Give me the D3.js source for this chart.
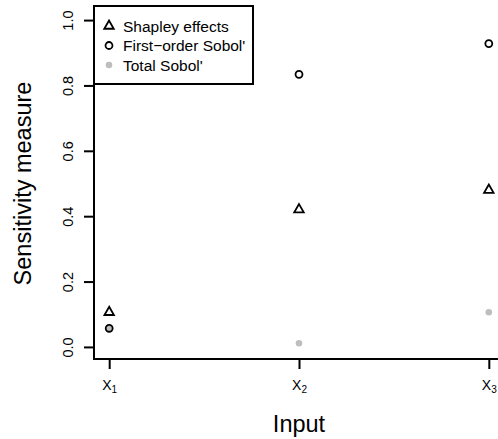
<!DOCTYPE html>
<html>
<head>
<meta charset="utf-8">
<script src="https://cdn.jsdelivr.net/npm/d3@7"></script>
<style>
  body { margin: 0; background: #ffffff; }
  text { font-family: "Liberation Sans", Arial, Helvetica, sans-serif; fill: #000000; }
</style>
</head>
<body>
<div id="chart"></div>
<script>
const inputs = [1, 2, 3];
const inputLabels = ["X1", "X2", "X3"];
const shapley = [0.106, 0.42, 0.48];
const firstOrder = [0.057, 0.834, 0.928];
const totalSobol = [0.057, 0.011, 0.106];
const yTicks = [0, 0.2, 0.4, 0.6, 0.8, 1.0];
const legendLabels = ["Shapley effects", "First\u2212order Sobol'", "Total Sobol'"];

const width = 498;
const height = 439;

const svg = d3
  .select("#chart")
  .append("svg")
  .attr("width", width)
  .attr("height", height);

// R style 4% padding on both axes
const x = d3.scaleLinear().domain([0.92, 3.08]).range([94, 504]);
const y = d3.scaleLinear().domain([-0.04, 1.04]).range([360, 7]);

// y axis
const yAxis = svg
  .append("g")
  .attr("transform", "translate(94,0)")
  .call(d3.axisLeft(y).tickValues(yTicks).tickSize(10).tickSizeOuter(0).tickFormat(d3.format(".1f")));
yAxis.select(".domain").remove();
yAxis.selectAll(".tick line").attr("stroke", "#000").attr("stroke-width", 2);
yAxis
  .selectAll(".tick text")
  .attr("transform", "rotate(-90)")
  .attr("x", 0)
  .attr("y", -21)
  .attr("dy", 0)
  .attr("text-anchor", "middle")
  .style("font-size", "14.5px");

// x axis
const xAxis = svg
  .append("g")
  .attr("transform", "translate(0,359)")
  .call(d3.axisBottom(x).tickValues(inputs).tickSize(10).tickSizeOuter(0).tickFormat(""));
xAxis.select(".domain").remove();
xAxis.selectAll(".tick line").attr("stroke", "#000").attr("stroke-width", 2);
xAxis
  .selectAll(".tick")
  .append("text")
  .attr("y", 31)
  .attr("text-anchor", "middle")
  .style("font-size", "14px")
  .each(function (d, i) {
    const t = d3.select(this);
    t.append("tspan").text(inputLabels[i].charAt(0));
    t.append("tspan").attr("dy", 3).style("font-size", "10px").text(inputLabels[i].slice(1));
  });

// L shaped box
svg
  .append("path")
  .attr("d", `M${x(0.92)},${y(1.04)}V359H${width}`)
  .attr("fill", "none")
  .attr("stroke", "#000")
  .attr("stroke-width", 2);

const tri = d3.symbol(d3.symbolTriangle, 39);
const ring = d3.symbol(d3.symbolCircle, 38);
const dot = d3.symbol(d3.symbolCircle, 34);

// total Sobol' (grey dots)
svg
  .selectAll(".total")
  .data(totalSobol)
  .enter()
  .append("path")
  .attr("d", dot)
  .attr("transform", (d, i) => `translate(${x(inputs[i])},${y(d)})`)
  .attr("fill", "#bebebe");

// Shapley effects
svg
  .selectAll(".shapley")
  .data(shapley)
  .enter()
  .append("path")
  .attr("d", tri)
  .attr("transform", (d, i) => `translate(${x(inputs[i])},${y(d)})`)
  .attr("fill", "none")
  .attr("stroke", "#000")
  .attr("stroke-width", 1.8);

// first order Sobol'
svg
  .selectAll(".first")
  .data(firstOrder)
  .enter()
  .append("path")
  .attr("d", ring)
  .attr("transform", (d, i) => `translate(${x(inputs[i])},${y(d)})`)
  .attr("fill", "none")
  .attr("stroke", "#000")
  .attr("stroke-width", 1.8);

// axis titles
svg
  .append("text")
  .attr("x", 299)
  .attr("y", 432)
  .attr("text-anchor", "middle")
  .style("font-size", "23.5px")
  .text("Input");

svg
  .append("text")
  .attr("transform", "translate(31,183.5) rotate(-90)")
  .attr("text-anchor", "middle")
  .style("font-size", "23.5px")
  .text("Sensitivity measure");

// legend
const legend = svg.append("g");
legend
  .append("rect")
  .attr("x", 94)
  .attr("y", 6)
  .attr("width", 159)
  .attr("height", 78)
  .attr("fill", "#fff")
  .attr("stroke", "#000")
  .attr("stroke-width", 2);

const symbols = [
  { gen: tri, fill: "none", stroke: "#000" },
  { gen: ring, fill: "none", stroke: "#000" },
  { gen: dot, fill: "#bebebe", stroke: "none" }
];

const rows = legend
  .selectAll(".row")
  .data(legendLabels)
  .enter()
  .append("g")
  .attr("transform", (d, i) => `translate(109,${26 + i * 19.5})`);

rows
  .append("path")
  .attr("d", (d, i) => symbols[i].gen())
  .attr("fill", (d, i) => symbols[i].fill)
  .attr("stroke", (d, i) => symbols[i].stroke)
  .attr("stroke-width", 1.8);

rows
  .append("text")
  .attr("x", 14)
  .attr("y", 5.5)
  .style("font-size", "15.5px")
  .text((d) => d);
</script>
</body>
</html>
